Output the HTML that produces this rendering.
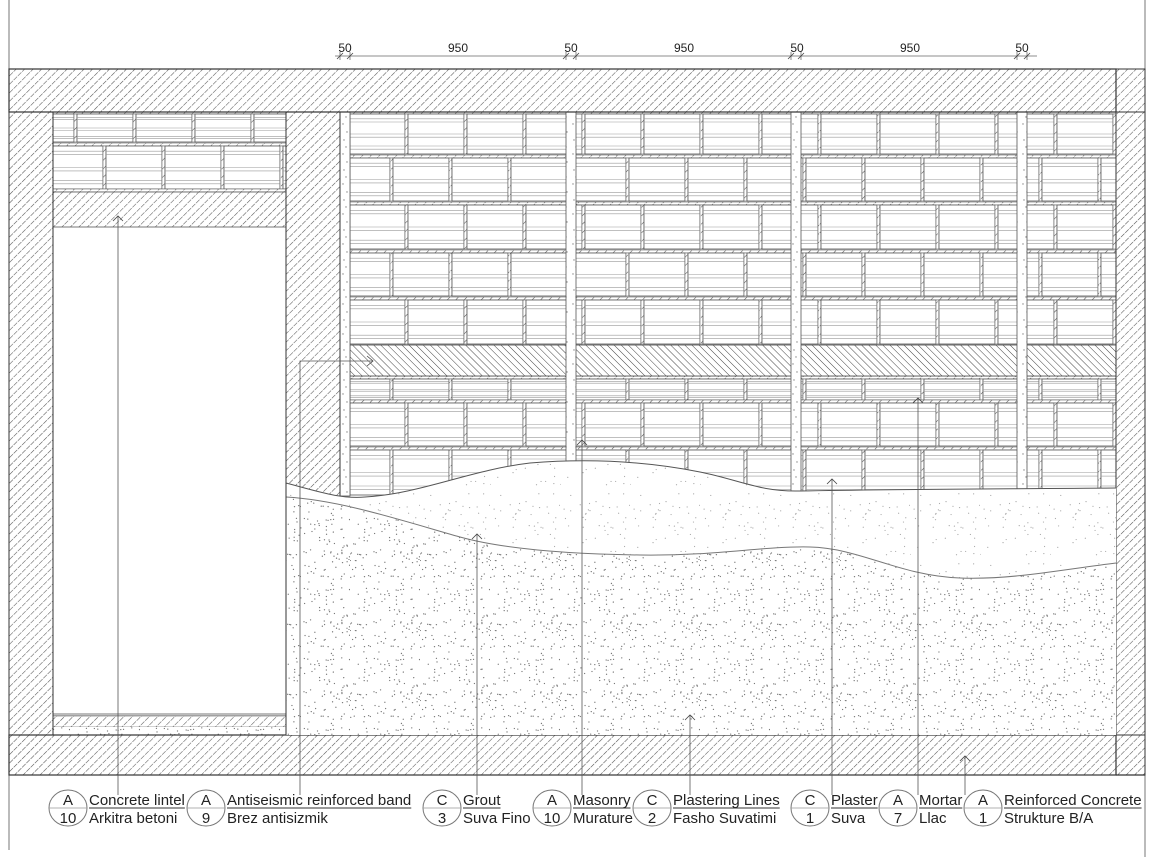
<!DOCTYPE html>
<html><head><meta charset="utf-8">
<style>
html,body{margin:0;padding:0;background:#fff;}
svg{display:block;}
text{font-family:"Liberation Sans",Arial,sans-serif;fill:#222;}
</style></head>
<body>
<svg id="s" width="1170" height="857" viewBox="0 0 1170 857" xmlns="http://www.w3.org/2000/svg">
<defs>
<pattern id="hatch" width="6" height="6" patternUnits="userSpaceOnUse" patternTransform="rotate(45)">
<rect width="6" height="6" fill="#fff"/>
<line x1="0" y1="0" x2="0" y2="6" stroke="#555" stroke-width="1.1" stroke-dasharray="5 1.5"/>
</pattern>
<pattern id="hatch2" width="5" height="5" patternUnits="userSpaceOnUse" patternTransform="rotate(-45)">
<rect width="5" height="5" fill="#fff"/>
<line x1="0" y1="0" x2="0" y2="5" stroke="#444" stroke-width="1"/>
</pattern>
<pattern id="sparse" width="70" height="70" patternUnits="userSpaceOnUse"><rect width="70" height="70" fill="#fff"/><g id="sp" fill="#aaa"></g></pattern>
<pattern id="dense" width="70" height="70" patternUnits="userSpaceOnUse"><rect width="70" height="70" fill="#fff"/><g id="dp" fill="#777"></g></pattern>
<pattern id="grout" width="10" height="30" patternUnits="userSpaceOnUse"><rect width="10" height="30" fill="#fff"/><circle cx="3" cy="4" r="0.7" fill="#888"/><circle cx="7" cy="12" r="0.7" fill="#888"/><circle cx="4" cy="20" r="0.7" fill="#888"/><circle cx="6" cy="27" r="0.7" fill="#888"/></pattern>
</defs>
<g id="g"></g>
</svg>
<script>
(function(){
var NS="http://www.w3.org/2000/svg",g=document.getElementById("g");
function el(t,a,p){var e=document.createElementNS(NS,t);for(var k in a)e.setAttribute(k,a[k]);(p||g).appendChild(e);return e;}
var seed=7;function rnd(){seed=(seed*16807)%2147483647;return seed/2147483647;}
var sp=document.getElementById("sp"),dp=document.getElementById("dp");
for(var i=0;i<45;i++)el("circle",{cx:rnd()*70,cy:rnd()*70,r:0.6},sp);
for(var i=0;i<110;i++)el("circle",{cx:rnd()*70,cy:rnd()*70,r:0.65},dp);
el("line",{x1:9,y1:0,x2:9,y2:850,stroke:"#777","stroke-width":1});
el("line",{x1:1145,y1:0,x2:1145,y2:857,stroke:"#777","stroke-width":1});
function brickRow(x0,x1,y0,y1,start,w){
  el("rect",{x:x0,y:y0-3,width:x1-x0,height:3,fill:"url(#hatch)",stroke:"#666","stroke-width":0.6});
  var x=start;while(x>x0)x-=w;
  for(;x<x1;x+=w){
    var a=Math.max(x,x0),b=Math.min(x+w-3,x1);if(b<=a)continue;
    el("rect",{x:a,y:y0,width:b-a,height:y1-y0,fill:"#fff",stroke:"#555","stroke-width":0.8});
    var h=y1-y0;
    [0.12,0.2,0.5,0.58,0.8,0.88].forEach(function(f){el("line",{x1:a,x2:b,y1:y0+h*f,y2:y0+h*f,stroke:"#999","stroke-width":0.6});});
    if(x+w-3<x1) el("rect",{x:x+w-3,y:y0,width:3,height:y1-y0,fill:"url(#hatch)",stroke:"#666","stroke-width":0.6});
  }
}
var rows=[[114,154],[158,201],[205,249],[253,296],[300,344],[379,400],[403,446],[450,495]];
rows.forEach(function(r,i){brickRow(350,1116,r[0],r[1],i%2?393:408,59);});
el("rect",{x:350,y:345,width:766,height:31,fill:"url(#hatch2)",stroke:"#444","stroke-width":0.8});
brickRow(53,286,114,142,77,59);brickRow(53,286,146,189,106,59);
el("rect",{x:53,y:189,width:233,height:3,fill:"url(#hatch)",stroke:"#666","stroke-width":0.6});
el("rect",{x:53,y:192,width:233,height:35,fill:"url(#hatch)",stroke:"#555","stroke-width":0.8});
el("rect",{x:53,y:713,width:233,height:3,fill:"#bbb"});
el("rect",{x:53,y:716,width:233,height:11,fill:"url(#hatch)",stroke:"#666","stroke-width":0.6});
el("rect",{x:53,y:727,width:233,height:8,fill:"url(#dense)"});
el("rect",{x:53,y:111,width:233,height:624,fill:"none",stroke:"#333","stroke-width":1});
[340,566,791,1017].forEach(function(x){el("rect",{x:x,y:111,width:10,height:385,fill:"url(#grout)",stroke:"#555","stroke-width":0.8});});
el("rect",{x:9,y:111,width:44,height:624,fill:"url(#hatch)",stroke:"#333","stroke-width":1});
el("rect",{x:286,y:111,width:54,height:385,fill:"url(#hatch)",stroke:"#333","stroke-width":1});
el("rect",{x:1116,y:69,width:29,height:706,fill:"url(#hatch)",stroke:"#333","stroke-width":1});
el("line",{x1:1116,y1:112,x2:1145,y2:112,stroke:"#333"});
el("line",{x1:1116,y1:735,x2:1145,y2:735,stroke:"#333"});
el("rect",{x:9,y:69,width:1107,height:43,fill:"url(#hatch)",stroke:"#333","stroke-width":1.2});
el("rect",{x:9,y:735,width:1107,height:40,fill:"url(#hatch)",stroke:"#333","stroke-width":1.2});
el("line",{x1:1116,y1:775,x2:1145,y2:775,stroke:"#333","stroke-width":1.2});
var up="M286,483 C320,492 340,499 365,497 C420,494 470,470 530,463 C580,459 640,460 700,472 C740,480 760,492 800,491 C900,489 1000,489 1116,488";
var loF="C1060,570 1010,580 960,578 C900,576 860,548 810,547 C760,546 720,556 640,555 C560,554 500,548 460,537 C400,520 340,500 286,497";
el("path",{d:up+" L1116,563 "+loF+" Z",fill:"url(#sparse)"});
var lo2="M286,497 C340,500 400,520 460,537 C500,548 560,554 640,555 C720,556 760,546 810,547 C860,548 900,576 960,578 C1010,580 1060,570 1116,563";
el("path",{d:lo2+" L1116,735 L286,735 Z",fill:"url(#dense)"});
el("path",{d:up,fill:"none",stroke:"#555","stroke-width":1});
el("path",{d:lo2,fill:"none",stroke:"#777","stroke-width":1});
el("line",{x1:286,y1:483,x2:286,y2:735,stroke:"#333"});
el("line",{x1:335,y1:56,x2:1037,y2:56,stroke:"#666","stroke-width":0.8});
[340,350,566,576,791,801,1017,1027].forEach(function(x){el("line",{x1:x-3,y1:59,x2:x+3,y2:53,stroke:"#444","stroke-width":0.8});el("line",{x1:x,y1:52,x2:x,y2:60,stroke:"#444","stroke-width":0.6});});
[[345,"50"],[458,"950"],[571,"50"],[684,"950"],[797,"50"],[910,"950"],[1022,"50"]].forEach(function(d){var t=el("text",{x:d[0],y:52,"font-size":12,"text-anchor":"middle"});t.textContent=d[1];});
function arrow(x,y){el("path",{d:"M"+(x-5)+","+(y+5)+" L"+x+","+y+" L"+(x+5)+","+(y+5),fill:"none",stroke:"#444","stroke-width":0.8});}
[[118,216,795],[477,534,795],[582,440,795],[690,715,795],[832,479,795],[918,398,795],[965,756,795]].forEach(function(l){el("line",{x1:l[0],y1:l[1],x2:l[0],y2:l[2],stroke:"#555","stroke-width":0.8});arrow(l[0],l[1]);});
el("polyline",{points:"300,795 300,361 373,361",fill:"none",stroke:"#555","stroke-width":0.8});
el("path",{d:"M367,356 L373,361 L367,366",fill:"none",stroke:"#444","stroke-width":0.8});
var c=[[68,"A","10","Concrete lintel","Arkitra betoni"],[206,"A","9","Antiseismic reinforced band","Brez antisizmik"],[442,"C","3","Grout","Suva Fino"],[552,"A","10","Masonry","Murature"],[652,"C","2","Plastering Lines","Fasho Suvatimi"],[810,"C","1","Plaster","Suva"],[898,"A","7","Mortar","Llac"],[983,"A","1","Reinforced Concrete","Strukture B/A"]];
c.forEach(function(o){
  var x=o[0];
  el("ellipse",{cx:x,cy:808,rx:19,ry:18,fill:"#fff",stroke:"#777","stroke-width":1});
  el("line",{x1:x-19,y1:808,x2:x+19,y2:808,stroke:"#999","stroke-width":0.8});
  var t=el("text",{x:x,y:805,"font-size":15,"text-anchor":"middle"});t.textContent=o[1];
  t=el("text",{x:x,y:823,"font-size":15,"text-anchor":"middle"});t.textContent=o[2];
  t=el("text",{x:x+21,y:805,"font-size":15});t.textContent=o[3];
  var w=t.getComputedTextLength?t.getComputedTextLength():o[3].length*8;
  el("line",{x1:x+21,y1:808,x2:x+21+w,y2:808,stroke:"#333","stroke-width":1});
  t=el("text",{x:x+21,y:823,"font-size":15});t.textContent=o[4];
});
})();
</script>
</body></html>
